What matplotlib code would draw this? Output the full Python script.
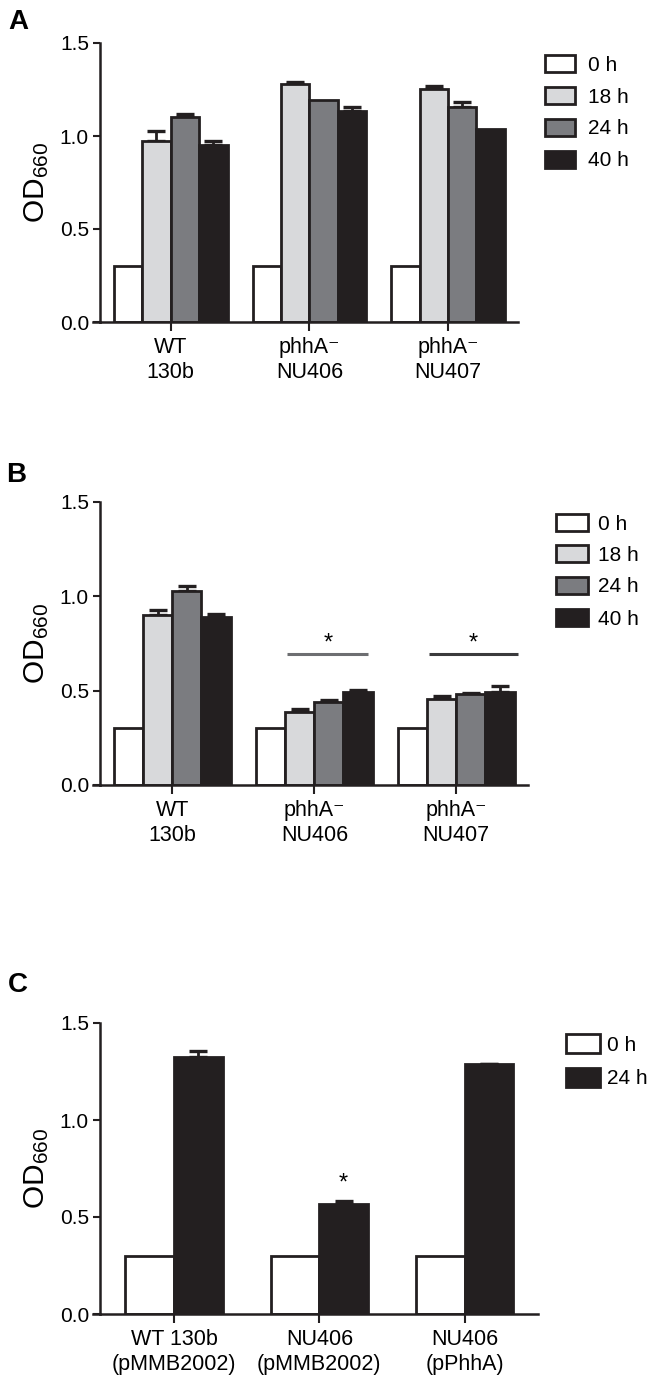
import numpy as np
import matplotlib
matplotlib.use("Agg")
import matplotlib.pyplot as plt
from matplotlib.patches import Rectangle

plt.rcParams["font.family"] = ["Liberation Sans", "DejaVu Sans"]
plt.rcParams["mathtext.fontset"] = "custom"
plt.rcParams["mathtext.rm"] = "Liberation Sans"
plt.rcParams["mathtext.it"] = "Liberation Sans:italic"
plt.rcParams["mathtext.bf"] = "Liberation Sans:bold"

W, H, DPI = 655, 1383, 100

# ---- data (OD660) ----
times_ab = ["0 h", "18 h", "24 h", "40 h"]
strains_ab = ["WT\n130b", "phhA\u207b\nNU406", "phhA\u207b\nNU407"]

# rows = time points, cols = strains
a_means = [[0.30, 0.30, 0.30],
           [0.975, 1.277, 1.253],
           [1.104, 1.196, 1.155],
           [0.953, 1.137, 1.038]]
a_errs = [[0, 0, 0],
          [0.05, 0.012, 0.018],
          [0.015, 0.0, 0.03],
          [0.022, 0.019, 0.0]]

b_means = [[0.30, 0.30, 0.30],
           [0.902, 0.386, 0.456],
           [1.029, 0.438, 0.482],
           [0.892, 0.491, 0.491]]
b_errs = [[0, 0, 0],
          [0.025, 0.019, 0.014],
          [0.027, 0.014, 0.007],
          [0.017, 0.014, 0.035]]
b_sig_groups = [2, 3]

times_c = ["0 h", "24 h"]
strains_c = ["WT 130b\n(pMMB2002)", "NU406\n(pMMB2002)", "NU406\n(pPhhA)"]
c_means = [[0.30, 0.30, 0.30],
           [1.325, 0.565, 1.287]]
c_errs = [[0, 0, 0],
          [0.031, 0.017, 0.003]]
c_sig_groups = [2]

colors4 = ["#ffffff", "#d8d9db", "#7b7c80", "#231f20"]
colors2 = ["#ffffff", "#231f20"]
edge = "#231f20"
LW = 2.0

fig = plt.figure(figsize=(W / DPI, H / DPI), dpi=DPI, facecolor="white")


def px_rect(l, r, t, b):
    return [l / W, 1 - b / H, (r - l) / W, (b - t) / H]


def panel(rect, means, errs, labels, colors, offsets, widths):
    l, r, t, b = rect
    ax = fig.add_axes(px_rect(l, r, t, b))
    x = np.arange(1, len(labels) + 1)
    for i, (m, e) in enumerate(zip(means, errs)):
        xi = x + offsets[i]
        ax.bar(xi, m, widths[i], color=colors[i], edgecolor=edge,
               linewidth=LW, zorder=2, joinstyle="miter")
        e = np.array(e)
        nz = e > 0
        if nz.any():
            ax.errorbar(xi[nz], np.array(m)[nz],
                        yerr=[np.zeros(nz.sum()), e[nz]], fmt="none",
                        ecolor=edge, elinewidth=2.0, capsize=6.5,
                        capthick=2.4, zorder=1.5)
    ax.set_xlim(0.49, 3.505)
    ax.set_ylim(0, 1.5)
    ax.set_yticks([0, 0.5, 1.0, 1.5])
    ax.set_yticklabels(["0.0", "0.5", "1.0", "1.5"])
    ax.set_xticks(x)
    ax.set_xticklabels(labels, fontsize=15.5, linespacing=1.25)
    ax.tick_params(axis="y", labelsize=15, length=5, width=1.5, pad=3,
                   color=edge)
    ax.tick_params(axis="x", length=6.5, width=1.5, pad=4, color=edge)
    for s in ["top", "right"]:
        ax.spines[s].set_visible(False)
    for s in ["left", "bottom"]:
        ax.spines[s].set_linewidth(1.8)
        ax.spines[s].set_color(edge)
        ax.spines[s].set_zorder(3)
    # x axis line continues under the y ticks
    ax.axhline(0, xmin=-7 / (r - l), xmax=0, color=edge, lw=1.8,
               clip_on=False, zorder=3)
    ax.text((37 - l) / (r - l), 0.5, "OD$_{660}$", rotation=90,
            ha="center", va="center", fontsize=21.5, transform=ax.transAxes)
    return ax


def legend(x0, ys, w, h, tx, labels, colors):
    for y, lab, c in zip(ys, labels, colors):
        fig.add_artist(Rectangle((x0 / W, 1 - (y + h / 2) / H), w / W, h / H,
                                 transform=fig.transFigure, facecolor=c,
                                 edgecolor=edge, linewidth=2.0))
        fig.text(tx / W, 1 - (y + 7.5) / H, lab, fontsize=15,
                 ha="left", va="baseline")


off4 = [(-1.5 + k) * 0.205 for k in range(4)]
wid4 = [0.205] * 4

# ---- A ----
axA = panel((100, 518, 43, 322), a_means, a_errs, strains_ab, colors4,
            off4, wid4)
legend(545, [63.5, 95.5, 127, 159], 30, 17, 588, times_ab, colors4)
fig.text(8 / W, 1 - 29 / H, "A", fontsize=20, fontweight="bold",
         va="baseline")

# ---- B ----
axB = panel((100, 528, 502, 785), b_means, b_errs, strains_ab, colors4,
            off4, wid4)
legend(556, [522, 553, 585, 617], 32, 17, 598, times_ab, colors4)
fig.text(6 / W, 1 - 482 / H, "B", fontsize=20, fontweight="bold",
         va="baseline")
sig_extent = {2: (-0.19, 0.38, "#6d6e71"), 3: (-0.19, 0.435, "#3a3a3c")}
for g in b_sig_groups:
    x0, x1, col = sig_extent[g]
    axB.plot([g + x0, g + x1], [0.694, 0.694], color=col, lw=2.2,
             solid_capstyle="butt")
    axB.text(g + (x0 + x1) / 2, 0.72, "*", ha="center", va="baseline",
             fontsize=17)

# ---- C ----
axC = panel((100, 538, 1023, 1314), c_means, c_errs, strains_c, colors2,
            [-0.1675, 0.1675], [0.335, 0.335])
legend(566, [1043.5, 1077], 34, 19, 607, times_c, colors2)
fig.text(8 / W, 1 - 992 / H, "C", fontsize=20, fontweight="bold",
         va="baseline")
for g in c_sig_groups:
    axC.text(g + 0.1675, 0.644, "*", ha="center", va="baseline",
             fontsize=17)

fig.savefig("out.png", dpi=DPI, facecolor="white")
